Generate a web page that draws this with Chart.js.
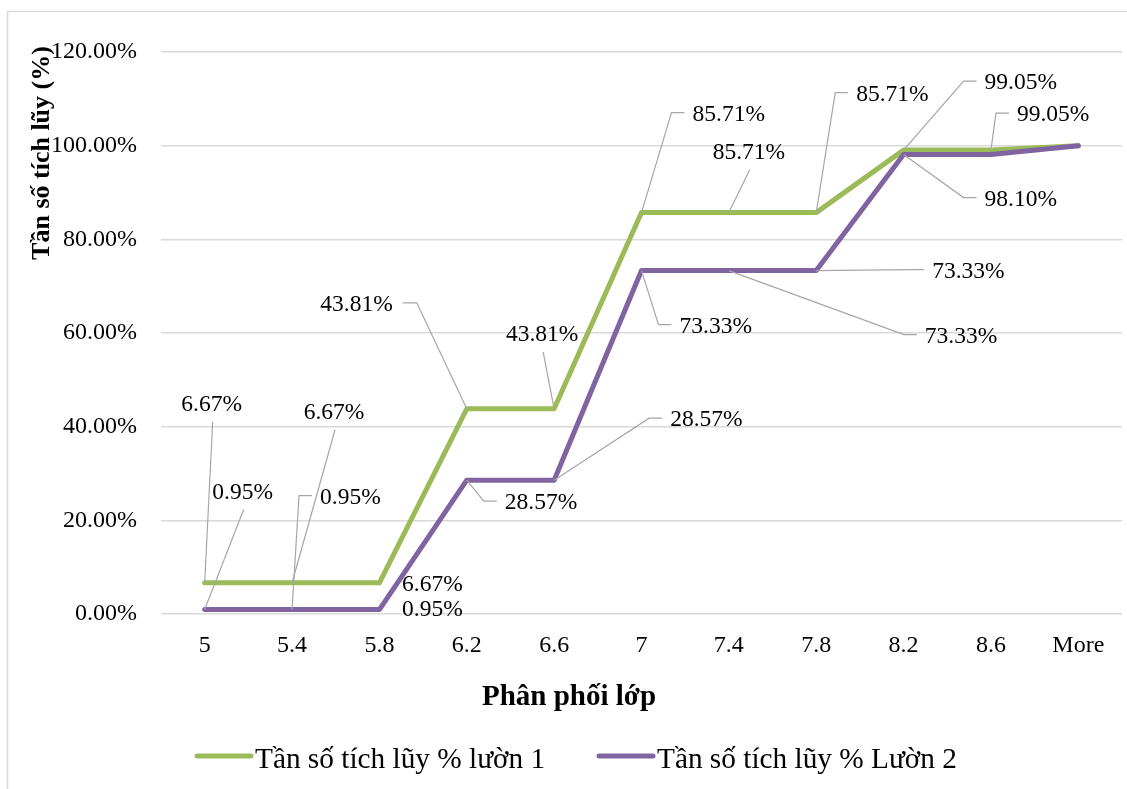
<!DOCTYPE html>
<html>
<head>
<meta charset="utf-8">
<title>Tần số tích lũy</title>
<script src="https://cdn.jsdelivr.net/npm/chart.js@4.4.1/dist/chart.umd.min.js"></script>
<style>
  html, body { margin: 0; padding: 0; background: #fff; }
  #wrap { width: 1127px; height: 789px; }
</style>
</head>
<body>
<div id="wrap"><canvas id="chart" width="1127" height="789"></canvas></div>
<script>
// Nhãn trục hoành (phân phối lớp)
const classes = ["5", "5.4", "5.8", "6.2", "6.6", "7", "7.4", "7.8", "8.2", "8.6", "More"];

// Tần số tích lũy (%) của hai lườn
const cumLuon1 = [6.67, 6.67, 6.67, 43.81, 43.81, 85.71, 85.71, 85.71, 99.05, 99.05, 100];
const cumLuon2 = [0.95, 0.95, 0.95, 28.57, 28.57, 73.33, 73.33, 73.33, 98.10, 98.10, 100];

const seriesNames = ["Tần số tích lũy % lườn 1", "Tần số tích lũy % Lườn 2"];
const seriesColors = ["#9BBB59", "#8064A2"];

// Các mốc trục tung
const yMin = 0, yMax = 120, yStep = 20;

// Vị trí nhãn dữ liệu: [series, điểm, kiểu đường dẫn, dx, dy]
// 'below'  : neo ở tâm chữ, đường dẫn nối vào cạnh dưới
// 'left'   : neo ở mép trái chữ, có đoạn gạch ngang bên trái
// 'right'  : neo ở mép phải chữ, có đoạn gạch ngang bên phải
// 'none'   : neo ở tâm chữ, không có đường dẫn
const labelLayout = [
  [0, 0, 'below', 7, -178],
  [0, 1, 'below', 42, -170],
  [0, 2, 'none', 53, 2],
  [0, 3, 'right', -74, -104],
  [0, 4, 'below', -12, -74],
  [0, 5, 'left', 51, -98],
  [0, 6, 'below', 20, -60],
  [0, 7, 'left', 40, -118],
  [0, 8, 'left', 81, -67],
  [0, 9, 'left', 26, -35],
  [1, 0, 'below', 38, -117],
  [1, 1, 'left', 28, -112],
  [1, 2, 'none', 53, 0],
  [1, 3, 'left', 38, 23],
  [1, 4, 'left', 116, -60],
  [1, 5, 'left', 38, 56],
  [1, 6, 'left', 196, 66],
  [1, 7, 'left', 116, 1],
  [1, 8, 'left', 81, 45]
];

const SERIF = '"Liberation Serif", "Times New Roman", serif';

// Khung viền, tiêu đề trục và chú giải
const decorPlugin = {
  id: 'decor',
  beforeDraw(chart) {
    const ctx = chart.ctx;
    ctx.save();
    ctx.strokeStyle = '#d9d9d9';
    ctx.lineWidth = 1.5;
    ctx.beginPath();
    ctx.moveTo(7.5, 789);
    ctx.lineTo(7.5, 11.5);
    ctx.lineTo(1127, 11.5);
    ctx.stroke();
    ctx.restore();
  },
  afterDraw(chart) {
    const ctx = chart.ctx;
    ctx.save();
    ctx.fillStyle = '#000';
    ctx.textBaseline = 'middle';
    ctx.textAlign = 'center';

    // tiêu đề trục hoành
    ctx.font = 'bold 29px ' + SERIF;
    ctx.fillText('Phân phối lớp', 569, 698);

    // tiêu đề trục tung
    ctx.font = 'bold 26px ' + SERIF;
    ctx.save();
    ctx.translate(42, 153);
    ctx.rotate(-Math.PI / 2);
    ctx.fillText('Tần số tích lũy (%)', 0, 0);
    ctx.restore();

    // chú giải
    const legendX = [197, 599];
    ctx.font = '29.3px ' + SERIF;
    ctx.textAlign = 'left';
    seriesNames.forEach((name, k) => {
      ctx.strokeStyle = seriesColors[k];
      ctx.lineWidth = 5;
      ctx.lineCap = 'round';
      ctx.beginPath();
      ctx.moveTo(legendX[k], 756);
      ctx.lineTo(legendX[k] + 54, 756);
      ctx.stroke();
      ctx.fillText(name, legendX[k] + 58, 760);
    });
    ctx.restore();
  }
};

// Nhãn phần trăm kèm đường dẫn
const labelPlugin = {
  id: 'pctLabels',
  afterDatasetsDraw(chart) {
    const ctx = chart.ctx;
    ctx.save();
    ctx.font = '23.5px ' + SERIF;
    ctx.fillStyle = '#000';
    ctx.textBaseline = 'middle';
    labelLayout.forEach(([ds, i, side, dx, dy]) => {
      const pt = chart.getDatasetMeta(ds).data[i];
      const value = chart.data.datasets[ds].data[i];
      const text = value.toFixed(2) + '%';
      const ax = pt.x + dx, ay = pt.y + dy;

      ctx.strokeStyle = '#a6a6a6';
      ctx.lineWidth = 1.2;
      ctx.beginPath();
      if (side === 'below') {
        ctx.moveTo(pt.x, pt.y);
        ctx.lineTo(ax + 1, ay + 17);
      } else if (side === 'left') {
        ctx.moveTo(pt.x, pt.y);
        ctx.lineTo(ax - 21, ay - 2);
        ctx.lineTo(ax - 8, ay - 2);
      } else if (side === 'right') {
        ctx.moveTo(pt.x, pt.y);
        ctx.lineTo(ax + 24, ay - 2);
        ctx.lineTo(ax + 10, ay - 2);
      }
      ctx.stroke();

      ctx.textAlign = side === 'left' ? 'left' : side === 'right' ? 'right' : 'center';
      ctx.fillText(text, ax, ay);
    });
    ctx.restore();
  }
};

new Chart(document.getElementById('chart'), {
  type: 'line',
  data: {
    labels: classes,
    datasets: [
      {
        label: seriesNames[0],
        data: cumLuon1,
        borderColor: seriesColors[0],
        borderWidth: 5,
        order: 2
      },
      {
        label: seriesNames[1],
        data: cumLuon2,
        borderColor: seriesColors[1],
        borderWidth: 5,
        order: 1
      }
    ]
  },
  options: {
    responsive: false,
    animation: false,
    events: [],
    layout: { padding: { top: 52, right: 5, left: 0, bottom: 0 } },
    elements: {
      point: { radius: 0 },
      line: { tension: 0, borderCapStyle: 'round', borderJoinStyle: 'round', fill: false }
    },
    plugins: {
      legend: { display: false },
      tooltip: { enabled: false }
    },
    scales: {
      x: {
        offset: true,
        grid: { display: false },
        border: { display: false },
        ticks: {
          color: '#000',
          padding: 9,
          font: { family: SERIF, size: 24 }
        },
        afterFit(scale) { scale.height = 175; }
      },
      y: {
        min: yMin,
        max: yMax,
        grid: { color: '#d9d9d9', lineWidth: 1.5, drawTicks: false },
        border: { display: false },
        ticks: {
          stepSize: yStep,
          color: '#000',
          padding: 24,
          font: { family: SERIF, size: 24 },
          callback: v => v.toFixed(2) + '%'
        },
        afterFit(scale) { scale.width = 161; }
      }
    }
  },
  plugins: [decorPlugin, labelPlugin]
});
</script>
</body>
</html>
